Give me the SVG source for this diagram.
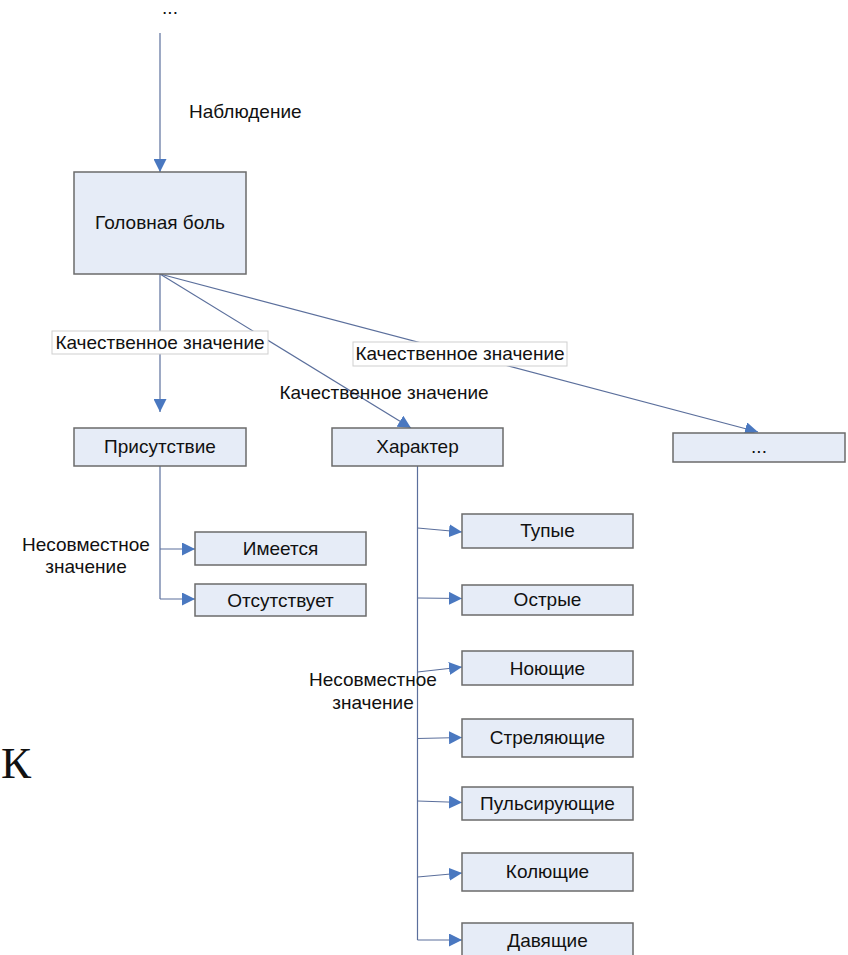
<svg xmlns="http://www.w3.org/2000/svg" width="848" height="955" viewBox="0 0 848 955">
  <style>
    text { font-family: "Liberation Sans", Arial, sans-serif; font-size: 19px; fill: #111; }
    .c { text-anchor: middle; }
    .node rect { fill: #e6ecf7; stroke: #6b6b6b; stroke-width: 1.5; }
    .conn { fill: none; stroke: #5b6f9c; stroke-width: 1.2; }
    .lbl rect { fill: #ffffff; stroke: #cfcfcf; stroke-width: 1; }
  </style>
  <defs>
    <marker id="arr" markerUnits="userSpaceOnUse" markerWidth="13" markerHeight="13" refX="13" refY="6.5" orient="auto">
      <path d="M0,0 L13,6.5 L0,13 z" fill="#4a78c0"/>
    </marker>
  </defs>
  <rect width="848" height="955" fill="#ffffff"/>

  <!-- connectors -->
  <g id="connectors">
    <line class="conn" x1="160" y1="33" x2="160" y2="172" marker-end="url(#arr)"/>
    <line class="conn" x1="160" y1="274" x2="160" y2="412" marker-end="url(#arr)"/>
    <line class="conn" x1="160" y1="274" x2="411" y2="428" marker-end="url(#arr)"/>
    <line class="conn" x1="160" y1="274" x2="758" y2="432" marker-end="url(#arr)"/>
    <!-- Присутствие branches -->
    <polyline class="conn" points="160,466 160,599"/>
    <line class="conn" x1="160" y1="549" x2="195" y2="549" marker-end="url(#arr)"/>
    <line class="conn" x1="160" y1="599" x2="195" y2="599" marker-end="url(#arr)"/>
    <!-- Характер branches -->
    <polyline class="conn" points="417.5,466 417.5,940"/>
    <line class="conn" x1="417.5" y1="528" x2="462" y2="532" marker-end="url(#arr)"/>
    <line class="conn" x1="417.5" y1="598" x2="462" y2="598.5" marker-end="url(#arr)"/>
    <line class="conn" x1="417.5" y1="672" x2="462" y2="667" marker-end="url(#arr)"/>
    <line class="conn" x1="417.5" y1="738.5" x2="462" y2="737.5" marker-end="url(#arr)"/>
    <line class="conn" x1="417.5" y1="801" x2="462" y2="802.5" marker-end="url(#arr)"/>
    <line class="conn" x1="417.5" y1="877" x2="462" y2="873" marker-end="url(#arr)"/>
    <line class="conn" x1="417.5" y1="940" x2="462" y2="940" marker-end="url(#arr)"/>
  </g>

  <!-- connector labels -->
  <g id="labels">
    <text class="c" x="170" y="14">...</text>
    <text x="189" y="118">Наблюдение</text>
    <g class="lbl">
      <rect x="52" y="331" width="216" height="23"/>
      <text class="c" x="160" y="349">Качественное значение</text>
    </g>
    <text class="c" x="384" y="399">Качественное значение</text>
    <g class="lbl">
      <rect x="353" y="342" width="214" height="24"/>
      <text class="c" x="460" y="360">Качественное значение</text>
    </g>
    <text class="c" x="86" y="551">Несовместное</text>
    <text class="c" x="86" y="573">значение</text>
    <text class="c" x="373" y="686">Несовместное</text>
    <text class="c" x="373" y="709">значение</text>
  </g>

  <!-- nodes -->
  <g id="n-headache" class="node">
    <rect x="74" y="172" width="172" height="102"/>
    <text class="c" x="160" y="229">Головная боль</text>
  </g>
  <g id="n-presence" class="node">
    <rect x="74" y="428" width="172" height="38"/>
    <text class="c" x="160" y="453">Присутствие</text>
  </g>
  <g id="n-character" class="node">
    <rect x="332" y="428" width="171" height="38"/>
    <text class="c" x="417.5" y="453">Характер</text>
  </g>
  <g id="n-more" class="node">
    <rect x="673" y="433" width="172" height="29"/>
    <text class="c" x="759" y="453">...</text>
  </g>
  <g id="n-yes" class="node">
    <rect x="195" y="532" width="171" height="33"/>
    <text class="c" x="280.5" y="555">Имеется</text>
  </g>
  <g id="n-no" class="node">
    <rect x="195" y="584" width="171" height="32"/>
    <text class="c" x="280.5" y="606.5">Отсутствует</text>
  </g>
  <g id="n-dull" class="node">
    <rect x="462" y="514" width="171" height="34"/>
    <text class="c" x="547.5" y="537">Тупые</text>
  </g>
  <g id="n-sharp" class="node">
    <rect x="462" y="585" width="171" height="30"/>
    <text class="c" x="547.5" y="606">Острые</text>
  </g>
  <g id="n-aching" class="node">
    <rect x="462" y="651" width="171" height="34"/>
    <text class="c" x="547.5" y="674.5">Ноющие</text>
  </g>
  <g id="n-shooting" class="node">
    <rect x="462" y="719" width="171" height="38"/>
    <text class="c" x="547.5" y="744">Стреляющие</text>
  </g>
  <g id="n-pulsing" class="node">
    <rect x="462" y="787" width="171" height="33"/>
    <text class="c" x="547.5" y="810">Пульсирующие</text>
  </g>
  <g id="n-stabbing" class="node">
    <rect x="462" y="853" width="171" height="38"/>
    <text class="c" x="547.5" y="878">Колющие</text>
  </g>
  <g id="n-pressing" class="node">
    <rect x="462" y="923" width="171" height="40"/>
    <text class="c" x="547.5" y="946.5">Давящие</text>
  </g>

  <!-- stray letter at the left margin -->
  <text x="1" y="778" style="font-family: 'Liberation Serif', 'Times New Roman', serif; font-size: 45px;">К</text>
</svg>
